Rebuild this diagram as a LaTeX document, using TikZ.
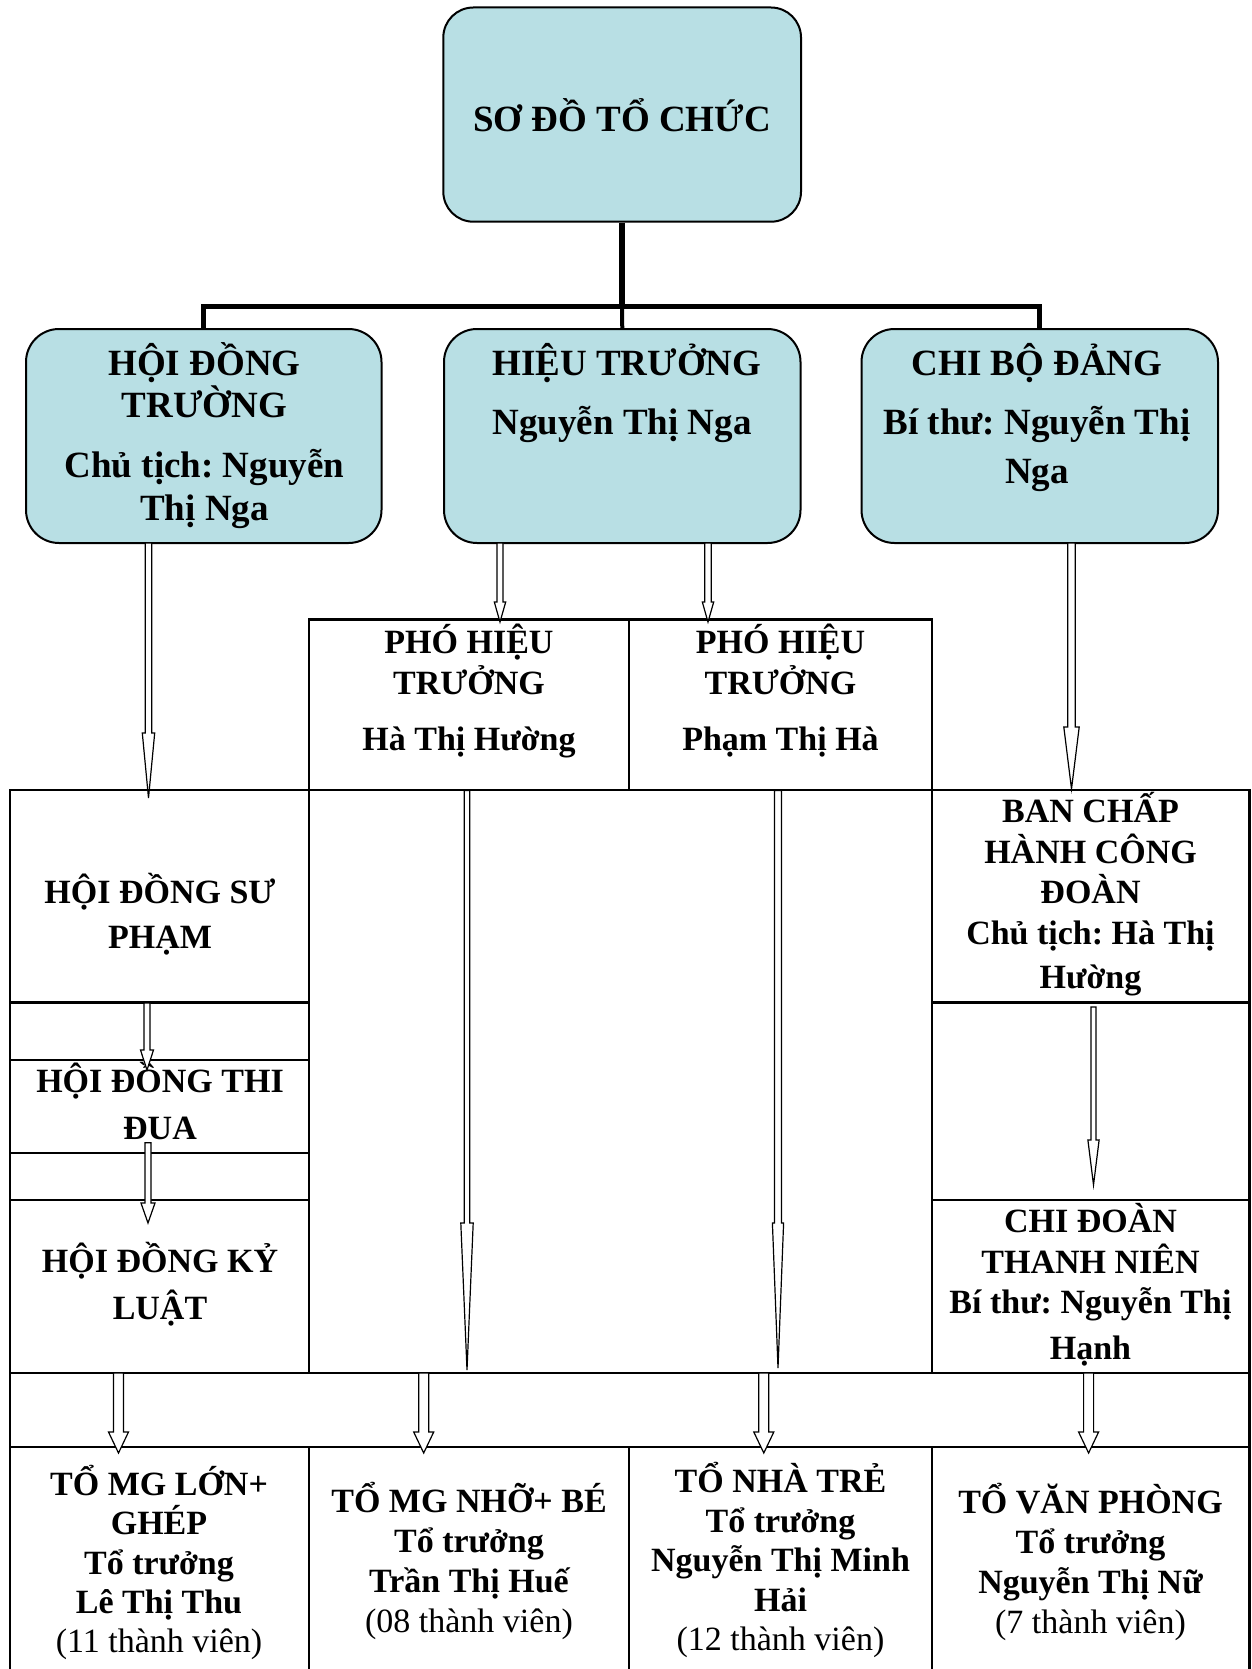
\documentclass[tikz,border=0pt]{standalone}
\usepackage{fontspec}
\setmainfont{Liberation Serif}
\usetikzlibrary{calc}
\frenchspacing
\definecolor{boxblue}{RGB}{184,223,228}
\newcommand\nols{\lineskiplimit=-100pt\relax}
\newcommand\fst{\rule{0pt}{1.1em}}
\tikzset{
  rbox/.style={draw=black, line width=2pt, fill=boxblue, inner sep=0pt},
  cellbox/.style={draw=black, line width=2.5pt, inner sep=0pt},
  arrowline/.style={draw=black, line width=1.2pt, fill=white, line join=miter},
  txt/.style 2 args={font=\fontsize{#1}{#2}\selectfont\bfseries\nols\frenchspacing, align=center, inner sep=0pt, anchor=north},
  conn/.style={draw=black, line join=miter},
}
% name, x1, y1, x2, y2, radius
\newcommand\RBox[6]{\node[rbox, rounded corners=#6pt, minimum width={#4-#2}, minimum height={#5-#3}] (#1) at ({(#2+#4)/2},{(#3+#5)/2}) {};}
\newcommand\CellBox[5]{\node[cellbox, minimum width={#4-#2}, minimum height={#5-#3}] (#1) at ({(#2+#4)/2},{(#3+#5)/2}) {};}
% name, x, first baseline, size, skip, text
\newcommand\TB[6]{\node[txt={#4}{#5}] (#1) at (#2,{#3-1.1*#4}) {\fst #6};}
% start coord, end coord, shaft half width, head half width, head length
\newcommand\HArrow[5]{\draw[arrowline] ($(#1)+(-#3,0)$) -- ($(#2)+(-#3,-#5)$) -- ($(#2)+(-#4,-#5)$) -- (#2) -- ($(#2)+(#4,-#5)$) -- ($(#2)+(#3,-#5)$) -- ($(#1)+(#3,0)$) -- cycle;}

\begin{document}
\begin{tikzpicture}[x=1pt, y=-1pt]
\useasboundingbox (0,0) rectangle (1251,1669);
\clip (0,0) rectangle (1251,1669);
\fill[white] (0,0) rectangle (1251,1669);

% top-level boxes
\RBox{title}{443.3}{7.5}{801}{221.7}{30}
\RBox{hdt}{26}{329}{381.5}{543}{33}
\RBox{ht}{444}{329}{800.5}{543}{33}
\RBox{cbd}{861.5}{329}{1218}{543}{33}

% tree connectors
\coordinate (bar) at (622.3,306.7);
\draw[conn, line width=6pt] (title.south) -- (title.south |- bar);
\draw[conn, line width=4pt] (title.south |- bar) -- (ht.north);
\draw[conn, line width=5pt] (hdt.north) -- (hdt.north |- bar) -- (cbd.north |- bar) -- (cbd.north);

% table cells
\CellBox{pht1}{309}{619.5}{629}{790}
\CellBox{pht2}{629}{619.5}{932}{790}
\CellBox{hdsp}{10}{790}{309}{1002.5}
\CellBox{gapL1}{10}{1002.5}{309}{1060}
\CellBox{hdtd}{10}{1060}{309}{1153}
\CellBox{gapL2}{10}{1153}{309}{1200}
\CellBox{hdkl}{10}{1200}{309}{1373}
\CellBox{mid}{309}{790}{932}{1373}
\CellBox{bch}{932}{790}{1249.5}{1002.5}
\CellBox{gapR}{932}{1002.5}{1249.5}{1200}
\CellBox{cdtn}{932}{1200}{1249.5}{1373}
\CellBox{band}{10}{1373}{1249.5}{1447}
\CellBox{c1}{10}{1447}{309}{1690}
\CellBox{c2}{309}{1447}{629}{1690}
\CellBox{c3}{629}{1447}{932}{1690}
\CellBox{c4}{932}{1447}{1249.5}{1690}

% texts
\TB{t-title}{622}{131}{37}{42.5}{SƠ ĐỒ TỔ CHỨC}
\TB{t-hdt}{204.5}{375}{37}{42.5}{HỘI ĐỒNG\\TRƯỜNG\\[17.5pt]Chủ tịch: Nguyễn\\Thị Nga}
\TB{t-ht}{622}{375}{37}{42.5}{\hspace*{10pt}HIỆU TRƯỞNG\\[17pt]Nguyễn Thị Nga}
\TB{t-cbd}{1037}{375.5}{37}{42.5}{CHI BỘ ĐẢNG\\[16.5pt]Bí thư: Nguyễn Thị\\[6.5pt]Nga}
\TB{t-pht1}{469}{653.3}{34}{40.5}{PHÓ HIỆU\\TRƯỞNG\\[16pt]Hà Thị Hường}
\TB{t-pht2}{780.5}{653.3}{34}{40.5}{PHÓ HIỆU\\TRƯỞNG\\[16pt]Phạm Thị Hà}
\TB{t-hdsp}{160}{903.3}{34}{45}{HỘI ĐỒNG SƯ\\PHẠM}
\TB{t-hdtd}{160}{1092.5}{34}{46.6}{HỘI ĐỒNG THI\\ĐUA}
\TB{t-hdkl}{160}{1272.7}{34}{46.6}{HỘI ĐỒNG KỶ\\LUẬT}
\TB{t-bch}{1090.5}{822.5}{34}{40.5}{BAN CHẤP\\HÀNH CÔNG\\ĐOÀN\\Chủ tịch: Hà Thị\\[4pt]Hường}
\TB{t-cdtn}{1090.5}{1232.5}{34}{40.5}{CHI ĐOÀN\\THANH NIÊN\\Bí thư: Nguyễn Thị\\[5pt]Hạnh}
\TB{t-c1}{159}{1495}{34}{39.4}{TỔ MG LỚN+\\GHÉP\\Tổ trưởng\\Lê Thị Thu\\{\mdseries (11 thành viên)}}
\TB{t-c2}{469}{1512.3}{34}{40}{TỔ MG NHỠ+ BÉ\\Tổ trưởng\\Trần Thị Huế\\{\mdseries (08 thành viên)}}
\TB{t-c3}{780.5}{1492.5}{34}{39.5}{TỔ NHÀ TRẺ\\Tổ trưởng\\Nguyễn Thị Minh\\Hải\\{\mdseries (12 thành viên)}}
\TB{t-c4}{1090.5}{1513.5}{34}{39.8}{TỔ VĂN PHÒNG\\Tổ trưởng\\Nguyễn Thị Nữ\\{\mdseries (7 thành viên)}}

% arrow end points
\coordinate (a1s) at (148.5,543);  \coordinate (a1e) at (148.5,798);
\coordinate (a2s) at (500,543);    \coordinate (a2e) at (500,622);
\coordinate (a3s) at (708,543);    \coordinate (a3e) at (708,622);
\coordinate (a4s) at (1071.5,543); \coordinate (a4e) at (1071.5,789);
\coordinate (a5s) at (467,790.5);  \coordinate (a5e) at (467,1370);
\coordinate (a6s) at (778,790.5);  \coordinate (a6e) at (778,1368);
\coordinate (a7s) at (147,1003);   \coordinate (a7e) at (147,1070);
\coordinate (a8s) at (148,1142.7); \coordinate (a8e) at (148,1223);
\coordinate (a9s) at (1093.5,1007);\coordinate (a9e) at (1093.5,1185);
\coordinate (b1s) at (118.5,1373); \coordinate (b1e) at (118.5,1453);
\coordinate (b2s) at (423.7,1373); \coordinate (b2e) at (423.7,1453);
\coordinate (b3s) at (763.8,1373); \coordinate (b3e) at (763.8,1453);
\coordinate (b4s) at (1088.6,1373);\coordinate (b4e) at (1088.6,1453);

% arrows
\HArrow{a1s}{a1e}{3.2}{6.2}{65}
\HArrow{a2s}{a2e}{3}{5.7}{20}
\HArrow{a3s}{a3e}{3.2}{5.7}{20}
\HArrow{a4s}{a4e}{3.7}{7.7}{62}
\HArrow{a5s}{a5e}{2.8}{6.2}{147}
\HArrow{a6s}{a6e}{3.5}{5.6}{145}
\HArrow{a7s}{a7e}{3}{6.5}{20}
\HArrow{a8s}{a8e}{3}{7}{20}
\HArrow{a9s}{a9e}{2.5}{5.6}{45}
\HArrow{b1s}{b1e}{5}{10}{21}
\HArrow{b2s}{b2e}{5}{10}{21}
\HArrow{b3s}{b3e}{5}{10}{21}
\HArrow{b4s}{b4e}{5}{10}{21}
\end{tikzpicture}
\end{document}
